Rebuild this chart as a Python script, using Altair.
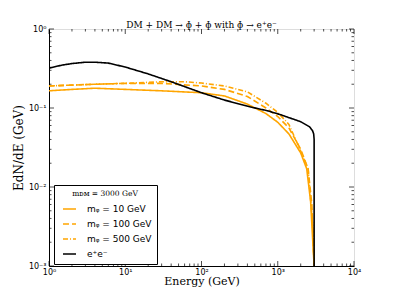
import altair as alt
import pandas as pd

# ---- data ----
energy_10 = [1, 2, 4, 10, 30, 100, 200, 400, 700, 1000, 1400, 2000, 2400, 2700, 2900, 3000]
flux_10 = [0.165, 0.172, 0.178, 0.172, 0.165, 0.156, 0.142, 0.112, 0.085, 0.066, 0.047, 0.027, 0.017, 0.0065, 0.0018, 0.001]

energy_100 = [1, 2, 4, 10, 30, 100, 200, 400, 700, 1000, 1400, 2000, 2500, 2800, 3000]
flux_100 = [0.19, 0.195, 0.2, 0.205, 0.205, 0.19, 0.172, 0.14, 0.1, 0.078, 0.056, 0.03, 0.017, 0.006, 0.001]

energy_500 = [1, 2, 4, 10, 30, 60, 100, 200, 400, 700, 1000, 1400, 1900, 2500, 2900, 3000]
flux_500 = [0.19, 0.195, 0.2, 0.205, 0.215, 0.215, 0.207, 0.19, 0.16, 0.115, 0.088, 0.062, 0.032, 0.017, 0.003, 0.001]

energy_ee = [1, 1.5, 2, 3, 4, 6, 10, 20, 40, 100, 200, 440, 740, 1100, 2000, 2600, 2850, 2960, 3000, 3000]
flux_ee = [0.32, 0.35, 0.365, 0.38, 0.38, 0.37, 0.33, 0.27, 0.215, 0.156, 0.126, 0.103, 0.092, 0.082, 0.067, 0.058, 0.052, 0.047, 0.04, 0.001]

series_names = ["mᵩ = 10 GeV", "mᵩ = 100 GeV", "mᵩ = 500 GeV", "e⁺e⁻"]
series_colors = ["#FFA500", "#FFA500", "#FFA500", "#000000"]
series_dashes = [[1, 0], [6, 3], [5, 2, 1, 2], [1, 0]]

x_major = [1, 10, 100, 1000, 10000]
y_major = [0.001, 0.01, 0.1, 1]
x_minor = [m * d for d in [1, 10, 100, 1000] for m in range(2, 10)]
y_minor = [m * d for d in [0.001, 0.01, 0.1] for m in range(2, 10)]

rows = []
for name, xs, ys in zip(series_names, [energy_10, energy_100, energy_500, energy_ee],
                        [flux_10, flux_100, flux_500, flux_ee]):
    for i, (x, y) in enumerate(zip(xs, ys)):
        rows.append({"series": name, "E": x, "F": y, "i": i})
df = pd.DataFrame(rows)

W, H = 305, 237
xscale = alt.Scale(type="log", domain=[1, 10000])
yscale = alt.Scale(type="log", domain=[0.001, 1])

x_lab = "{'1':'10⁰','10':'10¹','100':'10²','1000':'10³','10000':'10⁴'}[''+datum.value]"
y_lab = "datum.value >= 1 ? '10⁰' : datum.value >= 0.1 ? '10⁻¹' : datum.value >= 0.01 ? '10⁻²' : '10⁻³'"

leg = alt.Legend(title="mᴅᴍ = 3000 GeV", orient="none", legendX=5, legendY=156,
                 strokeColor="black", fillColor="white", padding=5,
                 symbolType="stroke", symbolSize=169, symbolStrokeWidth=1.6, symbolOffset=3,
                 labelOffset=10, labelFont="DejaVu Sans", labelFontSize=9, labelColor="black",
                 titleFont="DejaVu Serif", titleFontSize=7.5, titleFontWeight="normal",
                 titleColor="black", titleAnchor="middle", titlePadding=4, rowPadding=2,
                 cornerRadius=0)

lines = alt.Chart(df).mark_line(strokeWidth=1.6, clip=True).encode(
    x=alt.X("E:Q", scale=xscale,
            axis=alt.Axis(values=x_major, labelExpr=x_lab, ticks=False, grid=False,
                          title="Energy (GeV)", titleFont="DejaVu Serif", titleFontSize=11,
                          titleFontWeight="normal", titleBaseline="alphabetic", titleY=18.5,
                          labelFont="DejaVu Sans",
                          labelFontSize=8, labelColor="black", titleColor="black",
                          domainColor="black", labelPadding=2, labelFlush=False)),
    y=alt.Y("F:Q", scale=yscale,
            axis=alt.Axis(values=y_major, labelExpr=y_lab, ticks=False, grid=False,
                          title="EdN/dE (GeV)", titleFont="DejaVu Serif", titleFontSize=12,
                          titleFontWeight="normal", titleX=-31, titleBaseline="middle",
                          labelFont="DejaVu Sans",
                          labelFontSize=8, labelColor="black", titleColor="black",
                          domainColor="black", labelPadding=3, labelFlush=False)),
    color=alt.Color("series:N", scale=alt.Scale(domain=series_names, range=series_colors), legend=leg),
    strokeDash=alt.StrokeDash("series:N", scale=alt.Scale(domain=series_names, range=series_dashes), legend=leg),
    order="i:Q",
)

def xticks(vals, size, top):
    d = pd.DataFrame({"v": vals})
    return alt.Chart(d).mark_tick(color="black", thickness=1, size=size).encode(
        x=alt.X("v:Q", scale=xscale),
        y=alt.value(size / 2 if top else H - size / 2))

def yticks(vals, size, right):
    d = pd.DataFrame({"v": vals})
    return alt.Chart(d).mark_tick(color="black", thickness=1, size=size).encode(
        y=alt.Y("v:Q", scale=yscale),
        x=alt.value(W - size / 2 if right else size / 2))

ticks = [xticks(x_major, 5, False), xticks(x_major, 5, True), xticks(x_minor, 2.5, False), xticks(x_minor, 2.5, True),
         yticks(y_major, 5, False), yticks(y_major, 5, True), yticks(y_minor, 2.5, False), yticks(y_minor, 2.5, True)]

chart = alt.layer(lines, *ticks).properties(
    width=W, height=H,
    title=alt.Title("DM + DM → ɸ + ɸ with ɸ → e⁺e⁻", font="DejaVu Serif", fontSize=9,
                    fontWeight="normal", color="black", offset=-5),
    padding={"left": 41, "top": 21, "right": 33, "bottom": 22},
    autosize="none",
).configure_view(stroke="black", strokeWidth=1).configure(background="white")

chart.save("out.html", embed_options={"renderer": "svg", "actions": False})
